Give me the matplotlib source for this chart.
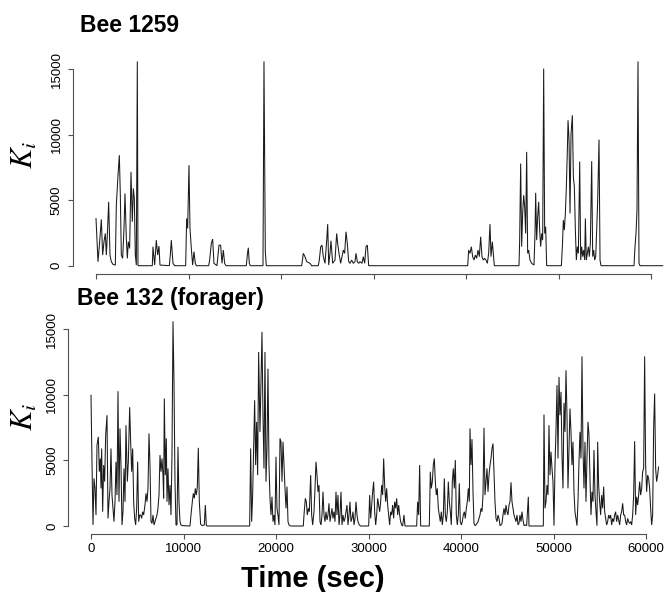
import matplotlib
matplotlib.use("Agg")
import matplotlib.pyplot as plt

plt.rcParams['font.family'] = ['Liberation Sans', 'DejaVu Sans']
plt.rcParams['mathtext.fontset'] = 'stix'

# ---------------- data ----------------
bee1259_time = [
    0, 216, 396, 576, 720, 864, 1009, 1117, 1225, 1369,
    1513, 1657, 1837, 2089, 2198, 2378, 2522, 2630, 2738, 2882,
    3026, 3134, 3278, 3386, 3495, 3639, 3783, 3927, 4035, 4143,
    4251, 4359, 4467, 4539, 6089, 6161, 6341, 6521, 6665, 6809,
    6917, 7926, 8034, 8142, 8322, 8503, 9692, 9800, 9908, 10052,
    10160, 10304, 10449, 10593, 10737, 10845, 12178, 12286, 12466, 12610,
    12754, 13079, 13187, 13295, 13475, 13619, 13763, 13907, 14051, 16249,
    16357, 16465, 16573, 16682, 18051, 18159, 18303, 18411, 22235, 22410,
    22593, 22776, 23133, 23317, 24031, 24139, 24290, 24430, 24572, 24755,
    24939, 25047, 25155, 25295, 25404, 25584, 25836, 26016, 26124, 26268,
    26448, 26592, 26736, 26880, 27025, 27169, 27313, 27457, 27637, 27817,
    27997, 28106, 28250, 28394, 28538, 28755, 28898, 29043, 29187, 29331,
    29475, 40178, 40286, 40430, 40574, 40718, 40862, 41006, 41150, 41294,
    41438, 41582, 41726, 41870, 42014, 42159, 42303, 42447, 42591, 42699,
    42843, 42951, 43059, 45726, 45798, 45906, 46014, 46122, 46230, 46338,
    46447, 46555, 46663, 46771, 46915, 47095, 47348, 47456, 47528, 47636,
    47744, 47852, 47960, 48068, 48176, 48285, 48393, 48501, 48609, 48717,
    50306, 50414, 50522, 50630, 50738, 50846, 50954, 51027, 51135, 51243,
    51351, 51495, 51603, 51711, 51819, 51927, 52035, 52143, 52288, 52396,
    52504, 52612, 52720, 52828, 52900, 53008, 53116, 53224, 53332, 53440,
    53584, 53692, 53800, 53908, 54016, 54125, 54233, 54377, 54485, 54593,
    58158, 58266, 58374, 58482, 58590, 58698, 58806, 61260,
]
bee1259_k = [
    3600, 300, 1830, 3530, 810, 1830, 2460, 810, 2340, 4870,
    810, 300, 100, 50, 4620, 6900, 8430, 5380, 810, 560,
    2840, 5510, 2080, 560, 1830, 1320, 7160, 3350, 5890, 5130,
    810, 50, 15580, 0, 0, 1450, 50, 1950, 810, 1500,
    50, 0, 810, 1950, 180, 0, 0, 3600, 2840, 7670,
    2840, 1320, 50, 1070, 180, 0, 0, 430, 1700, 2030,
    180, 0, 810, 1570, 1570, 180, 1190, 180, 0, 0,
    810, 1370, 180, 0, 0, 15580, 1070, 0, 0, 940,
    690, 310, 180, 0, 0, 430, 1450, 1570, 690, 180,
    1950, 3170, 50, 940, 1900, 180, 430, 2460, 1700, 940,
    180, 690, 1190, 940, 2590, 1700, 310, 180, 430, 180,
    310, 940, 310, 180, 310, 180, 690, 180, 1450, 1570,
    0, 0, 1190, 940, 1450, 690, 430, 810, 560, 1190,
    690, 2210, 690, 430, 560, 430, 180, 940, 3170, 690,
    1830, 940, 0, 0, 1950, 7790, 1450, 3990, 5380, 4490,
    2460, 8680, 940, 1190, 430, 180, 50, 2460, 5560, 1950,
    3730, 4870, 2720, 1450, 2460, 1950, 15030, 2460, 2970, 0,
    0, 1450, 3480, 2720, 3990, 6020, 8810, 11090, 9570, 3990,
    10080, 11470, 6780, 6020, 2720, 430, 1450, 940, 7940, 430,
    1450, 690, 1190, 430, 3600, 430, 940, 1450, 690, 1700,
    7970, 690, 1190, 430, 690, 2720, 5000, 9620, 430, 0,
    0, 1450, 2460, 4240, 15580, 180, 0, 0,
]

bee132_time = [
    0, 72, 216, 324, 432, 540, 648, 792, 900, 1008,
    1080, 1152, 1260, 1369, 1477, 1585, 1729, 1837, 1945, 2053,
    2161, 2269, 2377, 2485, 2594, 2702, 2810, 2918, 3026, 3134,
    3242, 3350, 3458, 3566, 3675, 3783, 3927, 4035, 4179, 4287,
    4395, 4503, 4611, 4719, 4828, 4936, 5044, 5152, 5260, 5368,
    5476, 5584, 5692, 5836, 5944, 6053, 6161, 6269, 6377, 6485,
    6593, 6701, 6809, 6917, 7025, 7133, 7242, 7350, 7458, 7566,
    7674, 7782, 7854, 7926, 8034, 8142, 8214, 8322, 8431, 8539,
    8647, 8755, 8863, 8971, 9079, 9187, 9295, 9403, 9511, 9620,
    9728, 9872, 10700, 10809, 10953, 11061, 11169, 11277, 11385, 11493,
    11601, 11709, 11853, 12034, 12250, 12358, 12466, 12560, 17150, 17258,
    17366, 17474, 17582, 17690, 17798, 17906, 18014, 18122, 18267, 18375,
    18483, 18591, 18699, 18807, 18915, 19023, 19131, 19239, 19348, 19456,
    19564, 19672, 19780, 19888, 19996, 20104, 20212, 20320,
    20431, 20539, 20647, 20755, 20863, 20971, 21080, 21188, 21296, 21404,
    21512, 21600, 22950, 23025, 23169, 23277, 23385, 23494, 23602, 23746,
    23854, 23962, 24106, 24214, 24322, 24430, 24538, 24646, 24755, 24863,
    24971, 25079, 25187, 25295, 25403, 25511, 25619, 25727, 25836, 25944,
    26052, 26160, 26268, 26376, 26484, 26592, 26700, 26808, 26916, 27025,
    27133, 27241, 27349, 27457, 27565, 27673, 27781, 27889, 27997, 28105,
    28214, 28322, 28430, 28538, 28646, 28754, 28862, 29006, 29150, 30015,
    30123, 30231, 30339, 30447, 30555, 30664, 30772, 30880, 30988, 31096,
    31204, 31312, 31420, 31528, 31636, 31745, 31853, 31961, 32069, 32177,
    32285, 32393, 32501, 32609, 32717, 32825, 32933, 33042, 33150, 33258,
    33366, 33474, 33582, 33690, 33834, 33942, 35203, 35311, 35419, 35527,
    35635, 36572, 36680, 36788, 36897, 37005, 37113, 37221, 37329, 37437,
    37545, 37653, 37761, 37869, 37978, 38086, 38194, 38302, 38410, 38518,
    38626, 38734, 38842, 38950, 39059, 39167, 39275, 39383, 39491, 39599,
    39707, 39815, 39923, 40031, 40140, 40248, 40356, 40464, 40572, 40680,
    40788, 40896, 40970, 41078, 41186, 41294, 41402, 41510, 41619, 41727,
    41835, 41943, 42051, 42159, 42267, 42375, 42483, 42591, 42699, 42807,
    42916, 43024, 43132, 43240, 43348, 43456, 43564, 43672, 43780, 43888,
    43996, 44104, 44213, 44321, 44429, 44537, 44645, 44753, 44861, 44969,
    45077, 45186, 45294, 45402, 45510, 45618, 45726, 45834, 45942, 46050,
    46158, 46266, 46375, 46483, 46591, 46699, 46807, 46951, 47095, 47275,
    47347, 48897, 48969, 49077, 49185, 49293, 49401, 49509, 49617, 49725,
    49833, 49941, 50050, 50158, 50266, 50374, 50482, 50590, 50698, 50806,
    50914, 51022, 51130, 51238, 51347, 51455, 51563, 51671, 51779, 51887,
    51995, 52103, 52211, 52319, 52427, 52535, 52643, 52751, 52860, 52968,
    53076, 53184, 53292, 53400, 53508, 53616, 53724, 53832, 53941, 54049,
    54157, 54265, 54373, 54481, 54589, 54697, 54769, 54877, 54986, 55094,
    55202, 55310, 55418, 55526, 55634, 55742, 55850, 55958, 56066, 56174,
    56283, 56391, 56499, 56607, 56715, 56823, 56931, 57039, 57147, 57256,
    57364, 57472, 57580, 57688, 57796, 57904, 58012, 58120, 58228, 58336,
    58445, 58553, 58661, 58769, 58877, 58985, 59093, 59201, 59309, 59417,
    59525, 59633, 59741, 59849, 59957, 60065, 60173, 60281, 60389, 60497,
    60605, 60713, 60822, 60930, 61038, 61146, 61254, 61350,
]
bee132_k = [
    9970, 6420, 80, 3630, 2870, 840, 6170, 6800, 4140, 5150,
    2870, 5910, 1090, 4650, 3380, 6930, 8450, 580, 1850, 2870,
    5910, 2360, 1350, 330, 1850, 4900, 2360, 10280, 1850, 7440,
    4650, 80, 1090, 4390, 1850, 7690, 3380, 4900, 9060, 6420,
    4140, 5910, 1850, 580, 80, 1350, 4900, 330, 840, 840,
    580, 1090, 840, 1600, 2490, 1850, 2870, 7060, 4650, 330,
    200, 840, 80, 330, 580, 840, 1350, 2360, 5410, 4140,
    5150, 3880, 2110, 9720, 3880, 6680, 1850, 4390, 1600, 3120,
    840, 5410, 15610, 10990, 3380, 80, 80, 6040, 1850, 330,
    80, 30, 0, 840, 1850, 2490, 2110, 2870, 2360, 2990,
    5960, 1850, 130, 30, 80, 1600, 30, 0, 0, 5910,
    330, 2360, 5910, 9590, 4650, 7940, 3880, 13270, 7180, 10990,
    14800, 8450, 4390, 13270, 3380, 5910, 12000, 4650, 2110, 840,
    2230, 330, 840, 80, 5280, 1350, 840, 80,
    6680, 6420, 3380, 6420, 4650, 2870, 1350, 3000, 330, 80,
    30, 0, 0, 840, 2110, 1850, 840, 1350, 1090, 3880,
    840, 80, 1090, 2870, 4900, 3880, 2610, 3120, 330, 80,
    840, 2610, 840, 330, 1090, 460, 840, 1730, 330, 840,
    1350, 580, 1090, 330, 2610, 840, 2360, 80, 840, 2610,
    80, 840, 330, 580, 1090, 1600, 80, 840, 1850, 330,
    580, 1090, 80, 580, 1850, 840, 330, 80, 0, 0,
    2360, 580, 1600, 2610, 3380, 1090, 80, 840, 2110, 1600,
    1090, 1850, 3120, 2360, 5150, 3120, 1850, 2870, 1600, 840,
    80, 1090, 840, 1600, 580, 1850, 1350, 2110, 840, 1600,
    840, 330, 80, 0, 840, 0, 0, 1850, 840, 4650,
    0, 0, 4140, 2870, 3380, 4650, 5150, 3380, 2360, 2870,
    1350, 840, 330, 1090, 80, 840, 3630, 840, 330, 1090,
    3380, 1850, 1090, 80, 3380, 4390, 2870, 5030, 840, 80,
    840, 3250, 330, 80, 330, 840, 1090, 580, 1350, 1850,
    2870, 1850, 7440, 4650, 6620, 2610, 200, 30, 80, 200,
    330, 580, 840, 1350, 1090, 2360, 7490, 2360, 3380, 4390,
    2610, 3880, 4650, 5150, 5910, 6290, 4140, 1850, 580, 330,
    840, 580, 30, 80, 200, 840, 1350, 840, 1600, 1090,
    840, 1600, 1850, 3330, 1850, 1350, 840, 580, 330, 840,
    80, 200, 840, 330, 1090, 460, 30, 80, 30, 2230,
    0, 0, 8500, 1350, 1850, 3120, 2360, 7690, 3880, 5660,
    4390, 3380, 30, 4650, 7310, 10740, 5150, 11370, 8450, 10230,
    5410, 2870, 9390, 7180, 11880, 8450, 2870, 5910, 8960, 7180,
    4650, 6420, 2610, 1090, 580, 30, 1850, 4900, 7180, 5150,
    12940, 5910, 2870, 6420, 1850, 5150, 7940, 6930, 3630, 840,
    2610, 1850, 5790, 2360, 1090, 30, 6420, 3120, 1850, 840,
    2360, 1350, 3000, 1090, 580, 80, 330, 840, 580, 840,
    80, 580, 330, 840, 1090, 330, 840, 460, 80, 840,
    1090, 1730, 840, 840, 330, 80, 580, 330, 200, 330,
    80, 840, 2360, 6470, 840, 2230, 1600, 2360, 3380, 2360,
    2870, 4140, 4390, 12940, 4650, 2610, 3880, 3630, 2870, 1350,
    80, 840, 7510, 10100, 4390, 3380, 3880, 4500,
]

panel_titles = ["Bee 1259", "Bee 132 (forager)"]
x_ticks = [0, 10000, 20000, 30000, 40000, 50000, 60000]
y_ticks = [0, 5000, 10000, 15000]
x_label = "Time (sec)"
y_label = r"$K_i$"

# ---------------- layout ----------------
W, H = 666, 592
fig = plt.figure(figsize=(W / 100, H / 100), dpi=100)


def px_axes(left, top, right, bottom):
    return fig.add_axes([left / W, 1 - bottom / H, (right - left) / W, (bottom - top) / H])


ax1 = px_axes(73, 53.3, 666, 274)
ax1.set_xlim(-2486, 61617)
ax1.set_ylim(-633, 16200)

ax2 = px_axes(68.3, 313.6, 666, 534)
ax2.set_xlim(-2454, 62158)
ax2.set_ylim(-610, 16200)

axis_col = "#505050"
for ax, t, k in ((ax1, bee1259_time, bee1259_k), (ax2, bee132_time, bee132_k)):
    ax.plot(t, k, color="#1a1a1a", lw=0.75, solid_joinstyle="miter")
    for s in ("top", "right"):
        ax.spines[s].set_visible(False)
    ax.spines["left"].set_bounds(0, 15000)
    ax.spines["bottom"].set_bounds(0, 60000)
    for s in ("left", "bottom"):
        ax.spines[s].set_color(axis_col)
        ax.spines[s].set_linewidth(0.8)
    ax.set_xticks(x_ticks)
    ax.set_yticks(y_ticks)
    ax.set_yticklabels([str(v) for v in y_ticks])
    ax.tick_params(axis="both", direction="out", length=3.3, width=0.8,
                   color=axis_col, labelsize=9.5, labelcolor="black")
    ax.tick_params(axis="y", pad=4, labelrotation=90)
    for lbl in ax.get_yticklabels():
        lbl.set_va("center")
    ax.patch.set_visible(False)

ax1.tick_params(axis="x", labelbottom=False)
ax2.set_xticklabels([str(v) for v in x_ticks])
ax2.tick_params(axis="x", pad=3)

fig.text(80 / W, 1 - 25 / H, panel_titles[0], ha="left", va="center",
         fontsize=16.5, fontweight="bold")
fig.text(77 / W, 1 - 298 / H, panel_titles[1], ha="left", va="center",
         fontsize=16.5, fontweight="bold")
fig.text(313 / W, 1 - 579 / H, x_label, ha="center", va="center",
         fontsize=21, fontweight="bold")
fig.text(25 / W, 1 - 155 / H, y_label, ha="center", va="center",
         rotation=90, fontsize=22)
fig.text(25 / W, 1 - 417 / H, y_label, ha="center", va="center",
         rotation=90, fontsize=22)

fig.savefig("out.png", dpi=100)
